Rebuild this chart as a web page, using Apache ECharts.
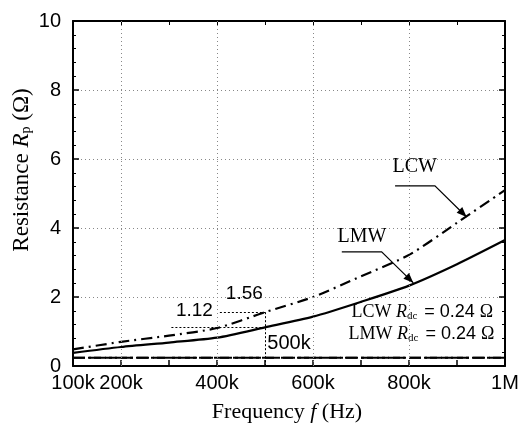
<!DOCTYPE html>
<html>
<head>
<meta charset="utf-8">
<script src="https://cdn.jsdelivr.net/npm/echarts@6/dist/echarts.min.js"></script>
<style>
  html, body { margin: 0; padding: 0; background: #fff; }
  #chart { width: 524px; height: 434px; }
</style>
</head>
<body>
<div id="chart"></div>
<script>
// Frequency in kHz
const freqK = [100, 200, 300, 400, 500, 600, 700, 800, 900, 1000];
// AC resistance Rp (ohm)
const lcwRp = [0.48, 0.70, 0.88, 1.10, 1.56, 2.00, 2.60, 3.22, 4.15, 5.10];
const lmwRp = [0.38, 0.55, 0.68, 0.82, 1.12, 1.43, 1.86, 2.33, 2.95, 3.65];
// DC resistance (ohm)
const lcwRdc = 0.24;
const lmwRdc = 0.24;
// Values called out at 500 kHz
const markFreq = 500;
const markLcw = 1.56;
const markLmw = 1.12;
// Vertical grid positions and labelled x ticks
const xGrid = [200, 400, 600, 800];
const xLabels = [100, 200, 400, 600, 800, 1000];

const SERIF = '"Liberation Serif", "Times New Roman", serif';
const SANS = '"Liberation Sans", Arial, sans-serif';

const chart = echarts.init(document.getElementById('chart'));

const fmtK = v => (v >= 1000 ? (v / 1000) + 'M' : v + 'k');

const pairs = (xs, ys) => xs.map((x, i) => [x, ys[i]]);
const flat = v => [[freqK[0], v], [freqK[freqK.length - 1], v]];

const frameAxis = {
  axisLine: { show: true, onZero: false, lineStyle: { color: '#000', width: 2 } },
  axisTick: { show: true, inside: true, length: 6, lineStyle: { color: '#000', width: 1.5 } },
  splitLine: { show: false }
};

chart.setOption({
  animation: false,
  grid: { left: 73, right: 19, top: 21, bottom: 68 },
  xAxis: [
    Object.assign({}, frameAxis, {
      type: 'value', min: 100, max: 1000, interval: 100, position: 'bottom',
      axisLabel: {
        color: '#000', fontFamily: SANS, fontSize: 20, margin: 7,
        formatter: v => (xLabels.indexOf(v) >= 0 ? fmtK(v) : '')
      }
    }),
    Object.assign({}, frameAxis, {
      type: 'value', min: 100, max: 1000, interval: 100, position: 'top',
      axisTick: { show: true, inside: true, length: 4, lineStyle: { color: '#000', width: 1 } },
      axisLabel: { show: false }
    })
  ],
  yAxis: [
    Object.assign({}, frameAxis, {
      type: 'value', min: 0, max: 10, interval: 2, position: 'left',
      axisLabel: { color: '#000', fontFamily: SANS, fontSize: 20, margin: 12 },
      minorTick: { show: true, splitNumber: 5, length: 3, lineStyle: { color: '#000', width: 1 } },
      splitLine: { show: true, lineStyle: { color: '#888', type: [1, 3], width: 1 } }
    }),
    Object.assign({}, frameAxis, {
      type: 'value', min: 0, max: 10, interval: 2, position: 'right',
      axisLabel: { show: false },
      minorTick: { show: true, splitNumber: 5, length: 3, lineStyle: { color: '#000', width: 1 } }
    })
  ],
  series: [
    {
      name: 'grid', type: 'line', data: [], silent: true,
      markLine: {
        silent: true, symbol: 'none', label: { show: false },
        lineStyle: { color: '#888', type: [1, 3], width: 1 },
        data: xGrid.map(v => ({ xAxis: v }))
      }
    },
    {
      name: 'LCW Rdc', type: 'line', data: flat(lcwRdc), symbol: 'none', z: 3,
      lineStyle: { color: '#000', width: 2, type: [12, 3, 3, 3] }
    },
    {
      name: 'LMW Rdc', type: 'line', data: flat(lmwRdc), symbol: 'none', z: 3,
      lineStyle: { color: '#000', width: 2, type: [12, 4] }
    },
    {
      name: 'LMW', type: 'line', data: pairs(freqK, lmwRp), symbol: 'none', smooth: 0.25, z: 4,
      lineStyle: { color: '#000', width: 2.2 },
      markLine: {
        silent: true, symbol: 'none', label: { show: false },
        lineStyle: { color: '#000', type: [2, 2], width: 1 },
        data: [
          [{ coord: [305, markLmw] }, { coord: [markFreq, markLmw] }],
          [{ coord: [406, markLcw] }, { coord: [markFreq, markLcw] }],
          [{ coord: [markFreq, markLcw] }, { coord: [markFreq, 0] }]
        ]
      }
    },
    {
      name: 'LCW', type: 'line', data: pairs(freqK, lcwRp), symbol: 'none', smooth: 0.25, z: 4,
      lineStyle: { color: '#000', width: 2.2, type: [11, 5, 2, 5] }
    }
  ]
});

// Text and arrow annotations placed in data coordinates
const px = (f, r) => chart.convertToPixel({ gridIndex: 0 }, [f, r]);

function arrow(points) {
  const p = points.map(q => px(q[0], q[1]));
  const a = p[p.length - 2], b = p[p.length - 1];
  const ang = Math.atan2(b[1] - a[1], b[0] - a[0]);
  const L = 10, W = 4;
  const head = [
    b,
    [b[0] - L * Math.cos(ang) + W * Math.sin(ang), b[1] - L * Math.sin(ang) - W * Math.cos(ang)],
    [b[0] - L * Math.cos(ang) - W * Math.sin(ang), b[1] - L * Math.sin(ang) + W * Math.cos(ang)]
  ];
  return [
    { type: 'polyline', shape: { points: p }, style: { stroke: '#000', lineWidth: 1.2, fill: null }, z: 10 },
    { type: 'polygon', shape: { points: head }, style: { fill: '#000' }, z: 10 }
  ];
}

function label(f, r, text, font, size, align) {
  const p = px(f, r);
  return {
    type: 'text', x: p[0], y: p[1], z: 10,
    style: { text: text, fill: '#000', font: size + 'px ' + font, align: align || 'center', verticalAlign: 'middle' }
  };
}

function rdcLabel(f, r, name) {
  const p = px(f, r);
  return {
    type: 'text', x: p[0], y: p[1], z: 10,
    style: {
      text: '{a|' + name + ' }{i|R}{s|dc}{b| = 0.24 }{o|Ω}',
      align: 'left', verticalAlign: 'middle',
      rich: {
        a: { fontFamily: SERIF, fontSize: 18, fill: '#000', lineHeight: 22 },
        i: { fontFamily: SERIF, fontSize: 18, fontStyle: 'italic', fill: '#000', lineHeight: 22 },
        s: { fontFamily: SERIF, fontSize: 11, fill: '#000', lineHeight: 22, padding: [8, 2, 0, 0] },
        b: { fontFamily: SANS, fontSize: 18, fill: '#000', lineHeight: 22 },
        o: { fontFamily: SERIF, fontSize: 18, fill: '#000', lineHeight: 22 }
      }
    }
  };
}

const yTitle = {
  type: 'text', x: 22, y: 170, rotation: Math.PI / 2, z: 10,
  style: {
    text: '{a|Resistance }{i|R}{s|p}{a| (Ω)}',
    align: 'center', verticalAlign: 'middle',
    rich: {
      a: { fontFamily: SERIF, fontSize: 23, fill: '#000', lineHeight: 26 },
      i: { fontFamily: SERIF, fontSize: 23, fontStyle: 'italic', fill: '#000', lineHeight: 26 },
      s: { fontFamily: SERIF, fontSize: 14, fill: '#000', lineHeight: 26, padding: [9, 0, 0, 0] }
    }
  }
};

const xTitle = {
  type: 'text', x: 287, y: 412, z: 10,
  style: {
    text: '{a|Frequency }{i|f}{a| (Hz)}',
    align: 'center', verticalAlign: 'middle',
    rich: {
      a: { fontFamily: SERIF, fontSize: 22, fill: '#000' },
      i: { fontFamily: SERIF, fontSize: 22, fontStyle: 'italic', fill: '#000' }
    }
  }
};

chart.setOption({
  graphic: [
    yTitle,
    xTitle,
    label(812, 5.77, 'LCW', SERIF, 20),
    label(702, 3.74, 'LMW', SERIF, 20),
    ...arrow([[771, 5.22], [854, 5.22], [920, 4.32]]),
    ...arrow([[660, 3.31], [743, 3.31], [809, 2.41]]),
    label(457, 2.08, '1.56', SANS, 19),
    label(353, 1.59, '1.12', SANS, 19),
    label(550, 0.64, '500k', SANS, 20),
    rdcLabel(680, 1.57, 'LCW'),
    rdcLabel(674, 0.93, 'LMW')
  ]
});
</script>
</body>
</html>
